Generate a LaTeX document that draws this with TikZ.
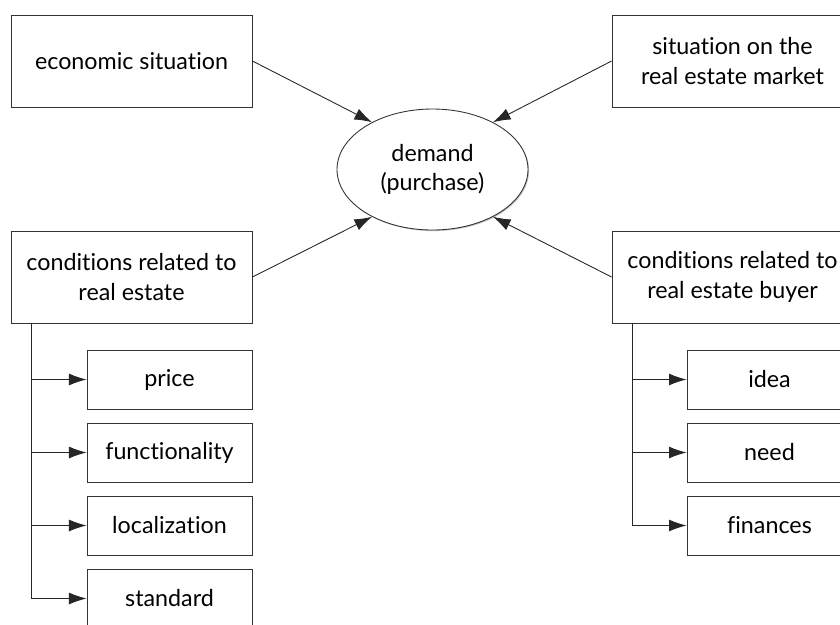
\documentclass[tikz,border=0pt]{standalone}
\usepackage{fontspec}
\setmainfont{Lato}[Ligatures=NoCommon]
\usetikzlibrary{arrows.meta,shapes.geometric,shadows}
\begin{document}
\begin{tikzpicture}[x = .016cm, y = -.016cm]
		\tikzstyle{every node} = [font = \fontsize{10.6}{13.5}\selectfont, align = center]
		\tikzstyle{box} = [draw = black!80, fill = white, rectangle, inner sep = 0pt,
			drop shadow = {shadow xshift = .5pt, shadow yshift = -.5pt, fill = black!40, opacity = .6}]
		\tikzstyle{bigbox} = [box, minimum width = 241*.016cm, minimum height = 92*.016cm]
		\tikzstyle{smallbox} = [box, minimum width = 165*.016cm, minimum height = 59*.016cm]
		\tikzstyle{link} = [draw = black!85, -{Latex[length = 8pt, width = 5.4pt]}]
		\useasboundingbox (0,0) rectangle (840,624);

		% centre
		\node [ellipse, draw = black!80, fill = white, minimum width = 191*.016cm, minimum height = 121*.016cm,
			drop shadow = {shadow xshift = .5pt, shadow yshift = -.5pt, fill = black!40, opacity = .6}]
			(demand) at (432.5,169.5) {demand\\(purchase)};

		% four influences
		\node [bigbox] (economy) at (131.5,61) {economic situation};
		\node [bigbox] (market) at (732.5,61) {situation on the\\real estate market};
		\node [bigbox] (estate) at (131.5,277) {conditions related to\\real estate};
		\node [bigbox] (buyer) at (732.5,277) {conditions related to\\real estate buyer};

		\draw [link] (economy.east) -- (demand.142);
		\draw [link] (market.west) -- (demand.38);
		\draw [link] (estate.east) -- (demand.218);
		\draw [link] (buyer.west) -- (demand.322);

		% sub items
		\coordinate (ltrunk) at (31,0);
		\coordinate (rtrunk) at (632,0);
		\foreach \name/\text [count = \i] in {price/price, function/functionality, place/localization, standard/standard}
		{
			\node [smallbox] (\name) at (169.5,379.5+73*\i-73) {\text};
			\draw [link] (estate.south -| ltrunk) |- (\name.west);
		}
		\foreach \name/\text [count = \i] in {idea/idea, need/need, money/finances}
		{
			\node [smallbox] (\name) at (769.5,379.5+73*\i-73) {\text};
			\draw [link] (buyer.south -| rtrunk) |- (\name.west);
		}
	\end{tikzpicture}
\end{document}
